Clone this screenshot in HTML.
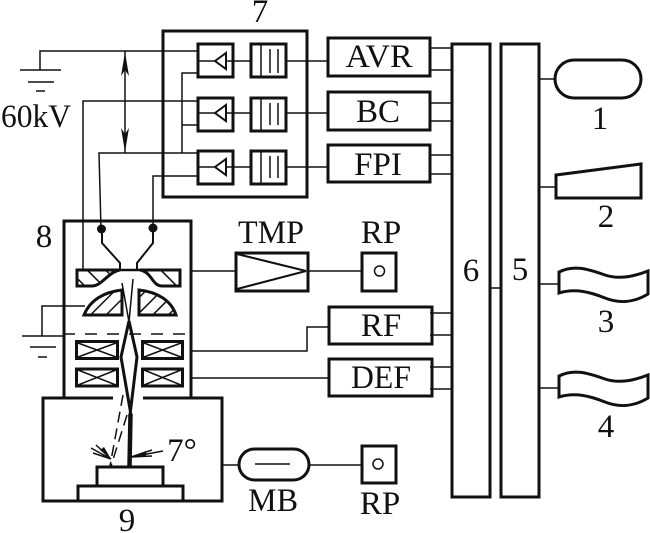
<!DOCTYPE html>
<html><head><meta charset="utf-8"><style>
html,body{margin:0;padding:0;background:#fff;width:650px;height:533px;overflow:hidden}
svg{display:block}
text{font-family:"Liberation Serif",serif;font-size:33px;fill:#111;text-anchor:middle}
</style></head><body>
<svg width="650" height="533" viewBox="0 0 650 533" xmlns="http://www.w3.org/2000/svg">
<defs>
<pattern id="h" width="11" height="11" patternUnits="userSpaceOnUse" patternTransform="rotate(45)"><rect width="11" height="11" fill="#fff"/><rect x="0" width="1.500" height="11" fill="#111"/></pattern>
<pattern id="h2" width="13" height="13" patternUnits="userSpaceOnUse" patternTransform="rotate(-45)"><rect width="13" height="13" fill="#fff"/><rect x="0" width="1.500" height="13" fill="#111"/></pattern>
</defs>
<g fill="none" stroke="#111" stroke-width="1.500">
<!-- thin wires -->
<path d="M40 70V51H197M83 270V101H197M101 229L99 153H197M153 228V176H197M182 153V73H197M182 125H197M125 51V153"/>
<path d="M42 336V306H85M192 271H235M308 271H361M192 351H307V327H329M192 378H329M222 465H238M309 465H361M255 464H290"/>
<path d="M430 48H452M430 70H452M430 103H452M430 121H452M430 155H452M430 174H452M430 313H452M430 335H452M430 367H452M430 389H452"/>
<path d="M307 61H327M307 113H327M307 167H327M286 61H307M286 113H307M286 167H307M490 288H501"/>
<path d="M539 79H554M539 187H556M539 284H559M539 388H559"/>
<path d="M197 61H215M226 61H250M197 113H215M226 113H250M197 167H215M226 167H250"/>
<path d="M215 61L226 53V69ZM215 113L226 105V121ZM215 167L226 159V175Z" stroke-width="2"/>
<path d="M261 43V77M270 49V73M278 49V73M261 97V131M270 103V125M278 103V125M261 150V184M270 156V178M278 156V178"/>
<path d="M20 70H61M28 82H54M36 91H45M22 336H63M30 347H56M38 357H47" />
<path d="M237 254L306 271L237 289" stroke-width="2"/>
<circle cx="379.500" cy="271" r="5"/><circle cx="378" cy="464" r="5"/>
<path d="M78 343L116 357M78 357L116 343M78 370L116 385M78 385L116 370M144 343L181 357M144 357L181 343M144 370L181 385M144 385L181 370"/>
<path d="M63 334H192" stroke-dasharray="12 10"/>
<path d="M122 283L129 322M133 279L129 322"/>
<path d="M123 395L110 466M127 415L111 466" stroke-dasharray="11 6"/>
<path d="M91 448L111 459M93 453L111 459M96 445L111 459M163 451L131 457M152 450L131 457M152 456L131 457"/>
</g>
<g fill="#111" stroke="none">
<path d="M125 52L129 76L125 70L121 76ZM125 152L121 128L125 134L129 128Z"/>
<path d="M100 450L111 459L104 447ZM146 451L131 457L146 456Z"/>
<circle cx="101.500" cy="229" r="4.500"/><circle cx="153" cy="228" r="4.500"/>
</g>
<!-- thick boxes -->
<g fill="none" stroke="#111" stroke-width="3">
<rect x="163" y="31" width="144" height="166"/>
<rect x="198" y="44" width="35" height="33"/><rect x="198" y="98" width="35" height="33"/><rect x="198" y="151" width="35" height="33"/>
<rect x="251" y="44" width="35" height="33"/><rect x="251" y="98" width="35" height="33"/><rect x="251" y="151" width="35" height="33"/>
<rect x="328" y="38" width="102" height="38"/><rect x="328" y="92" width="102" height="38"/><rect x="328" y="145" width="102" height="37"/>
<rect x="236" y="253" width="72" height="38"/><rect x="362" y="253" width="34" height="38"/>
<rect x="329" y="307" width="103" height="37"/><rect x="329" y="359" width="103" height="37"/>
<rect x="362" y="446" width="34" height="37"/>
<rect x="239" y="449" width="70" height="31" rx="15.500"/>
<path d="M64 398V221H191V398"/>
<path d="M113 398H43V501H222V398H143"/>
<rect x="97" y="467" width="66" height="19"/><rect x="78" y="486" width="105" height="15"/>
<rect x="76.500" y="341.500" width="41" height="17"/><rect x="76.500" y="369" width="41" height="17"/>
<rect x="142.500" y="341.500" width="40" height="17"/><rect x="142.500" y="369" width="40" height="17"/>
<rect x="452" y="44" width="38" height="453"/><rect x="501" y="44" width="38" height="453"/>
<rect x="555" y="60" width="86" height="38" rx="19"/>
<path d="M556 175L641 164V198H556Z"/>
<path d="M559 272C575 264 590 270 605 275C620 280 635 276 648 271V294C635 302 620 304 605 298C590 292 575 288 559 293Z"/>
<path d="M559 376C575 368 590 374 605 379C620 384 635 380 648 375V398C635 406 620 408 605 402C590 396 575 392 559 397Z"/>
<path d="M102 229V243L120 263V270M153 229V243L137 263V270" stroke-width="2"/>
<path d="M129 321L121 357L131 415M129 321L137 357L130 415"/>
<path d="M130.500 414L129.500 466" stroke-width="4.500"/>
<path d="M120 270H140" stroke-width="2.500"/>
<path d="M77 270H120C108 272 102 286 92 286H77Z" fill="url(#h2)"/>
<path d="M140 270H180V286H162C152 286 152 272 140 270Z" fill="url(#h2)"/>
<path d="M84 315C90 300 104 292 122 290V315Z" fill="url(#h)"/>
<path d="M139 290C157 292 171 300 176 315H139Z" fill="url(#h)"/>
</g>
<text x="260" y="22">7</text>
<text x="36" y="127" textLength="70" lengthAdjust="spacingAndGlyphs">60kV</text>
<text x="44" y="247">8</text>
<text x="379" y="67" textLength="67" lengthAdjust="spacingAndGlyphs">AVR</text>
<text x="378" y="122">BC</text>
<text x="378" y="175">FPI</text>
<text x="271" y="243" textLength="66" lengthAdjust="spacingAndGlyphs">TMP</text>
<text x="381" y="243">RP</text>
<text x="381" y="336">RF</text>
<text x="381" y="388" textLength="60" lengthAdjust="spacingAndGlyphs">DEF</text>
<text x="273" y="511" textLength="50" lengthAdjust="spacingAndGlyphs">MB</text>
<text x="380" y="514">RP</text>
<text x="127" y="531">9</text>
<text x="182" y="461">7°</text>
<text x="471" y="281">6</text>
<text x="520" y="280">5</text>
<text x="600" y="129">1</text>
<text x="606" y="227">2</text>
<text x="606" y="332">3</text>
<text x="606" y="437">4</text>
</svg>
</body></html>
